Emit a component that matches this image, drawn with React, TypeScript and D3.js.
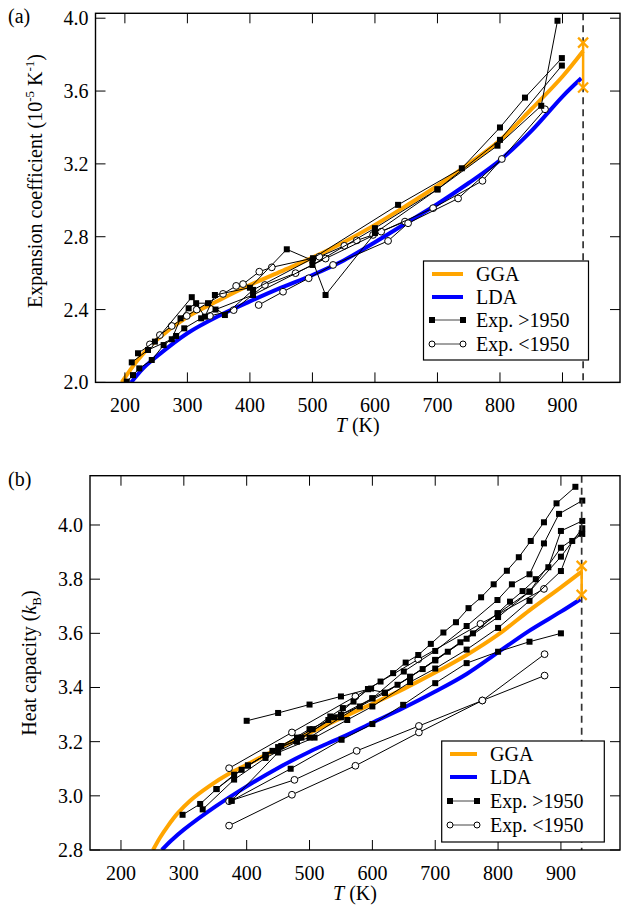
import React from "react";
import * as d3 from "d3";

// ---------- data ----------
const T_TICKS = [200, 300, 400, 500, 600, 700, 800, 900];
const ALPHA_TICKS = [2.0, 2.4, 2.8, 3.2, 3.6, 4.0];
const CP_TICKS = [2.8, 3.0, 3.2, 3.4, 3.6, 3.8, 4.0];
const T_MELT = 933;

type P = [number, number];

// Panel (a): expansion coefficient (1e-5 / K)
const ggaAlpha: P[] = [[195, 2.0], [220, 2.12], [250, 2.23], [300, 2.36], [350, 2.45], [400, 2.535], [450, 2.61], [500, 2.685], [550, 2.77], [600, 2.865], [650, 2.97], [700, 3.08], [750, 3.2], [800, 3.33], [850, 3.5], [900, 3.68], [933, 3.82]];
const ldaAlpha: P[] = [[210, 2.0], [230, 2.08], [250, 2.14], [300, 2.27], [350, 2.365], [400, 2.445], [450, 2.52], [500, 2.59], [550, 2.67], [600, 2.77], [650, 2.875], [700, 2.98], [750, 3.095], [800, 3.22], [850, 3.38], [900, 3.57], [930, 3.67]];
const alphaMeltRange: number[] = [3.866, 3.62];

const expAlphaNew1: P[] = [[203, 2.004], [213, 2.04], [223, 2.077], [243, 2.123], [262, 2.205], [282, 2.255], [295, 2.297], [322, 2.352], [345, 2.40], [405, 2.48], [500, 2.645], [600, 2.847], [700, 3.06], [800, 3.332], [899, 3.74]];
const expAlphaNew2: P[] = [[211, 2.11], [237, 2.178], [275, 2.237], [289, 2.352], [302, 2.407], [314, 2.435], [333, 2.435], [360, 2.37], [405, 2.508], [501, 2.682], [637, 2.975], [739, 3.176], [800, 3.40], [840, 3.564], [899, 3.781]];
const expAlphaNew3: P[] = [[221, 2.16], [248, 2.224], [307, 2.468], [328, 2.361], [344, 2.48], [400, 2.52], [459, 2.731], [500, 2.67], [521, 2.48], [600, 2.82], [700, 3.06], [796, 3.30], [866, 3.519], [892, 3.986]];
const expAlphaOld1: P[] = [[240, 2.209], [256, 2.26], [275, 2.31], [299, 2.365], [315, 2.40], [357, 2.486], [378, 2.53], [389, 2.54], [415, 2.608], [435, 2.632], [511, 2.69], [551, 2.75], [571, 2.78], [597, 2.81], [648, 2.883]];
const expAlphaOld2: P[] = [[336, 2.365], [374, 2.397], [424, 2.535], [473, 2.60], [521, 2.68], [610, 2.828], [693, 2.957], [772, 3.107], [872, 3.50]];
const expAlphaOld3: P[] = [[414, 2.425], [453, 2.498], [494, 2.572], [533, 2.645], [621, 2.777], [653, 2.874], [733, 3.01], [803, 3.227]];

// Panel (b): heat capacity (kB)
const ggaCp: P[] = [[251, 2.80], [262, 2.845], [275, 2.89], [290, 2.935], [310, 2.982], [340, 3.035], [373, 3.083], [400, 3.115], [450, 3.175], [500, 3.232], [550, 3.287], [600, 3.34], [650, 3.395], [700, 3.455], [750, 3.52], [800, 3.595], [850, 3.685], [900, 3.77], [933, 3.828]];
const ldaCp: P[] = [[265, 2.80], [280, 2.835], [300, 2.875], [350, 2.96], [400, 3.035], [450, 3.103], [500, 3.163], [550, 3.215], [600, 3.27], [650, 3.325], [700, 3.385], [750, 3.45], [800, 3.53], [850, 3.61], [900, 3.68], [931, 3.726]];
const cpMeltRange: number[] = [3.849, 3.742];

const expCpNew1: P[] = [[298, 2.93], [326, 2.97], [352, 3.025], [380, 3.078], [402, 3.112], [430, 3.151], [455, 3.184], [480, 3.215], [505, 3.246], [533, 3.293], [553, 3.324], [570, 3.348], [593, 3.394], [613, 3.422], [633, 3.453], [653, 3.492], [673, 3.520], [693, 3.561], [713, 3.603], [733, 3.641], [753, 3.693], [773, 3.733], [793, 3.781], [814, 3.831], [833, 3.881], [852, 3.941], [873, 4.010], [893, 4.080], [923, 4.141]];
const expCpNew2: P[] = [[441, 3.166], [500, 3.246], [550, 3.30], [600, 3.36], [650, 3.459], [700, 3.535], [750, 3.627], [799, 3.723], [822, 3.781], [850, 3.818], [873, 3.932], [897, 4.041], [934, 4.090]];
const expCpNew3: P[] = [[402, 3.112], [450, 3.18], [500, 3.215], [550, 3.29], [600, 3.36], [640, 3.41], [680, 3.468], [720, 3.532], [760, 3.60], [799, 3.674], [819, 3.717], [839, 3.756], [860, 3.80], [880, 3.844], [900, 3.978], [934, 4.015]];
const expCpNew4: P[] = [[352, 3.025], [392, 3.096], [430, 3.151], [487, 3.215], [540, 3.29], [593, 3.394], [620, 3.381], [660, 3.438], [700, 3.502], [740, 3.567], [800, 3.674], [850, 3.754], [900, 3.883], [934, 3.988]];
const expCpNew5: P[] = [[376, 2.982], [450, 3.16], [508, 3.215], [560, 3.28], [600, 3.33], [660, 3.42], [700, 3.47], [750, 3.54], [800, 3.62], [850, 3.72], [900, 3.83], [918, 3.941], [934, 3.967]];
const expCpNew6: P[] = [[400, 3.277], [450, 3.306], [500, 3.337], [550, 3.367], [598, 3.396]];
const expCpNew7: P[] = [[376, 2.982], [470, 3.10], [551, 3.207], [600, 3.265], [649, 3.336], [700, 3.416], [750, 3.49], [800, 3.532], [850, 3.569], [900, 3.600]];
const expCpNew8: P[] = [[330, 2.95], [380, 3.06], [430, 3.14], [480, 3.20], [530, 3.28], [580, 3.33], [620, 3.38], [660, 3.44], [700, 3.50], [750, 3.58], [800, 3.66], [850, 3.754], [900, 3.916], [933, 3.97]];
const expCpOld1: P[] = [[372, 2.89], [472, 3.004], [573, 3.111], [674, 3.234], [775, 3.352], [874, 3.523]];
const expCpOld2: P[] = [[372, 2.98], [476, 3.059], [575, 3.166], [674, 3.258], [775, 3.352], [874, 3.444]];
const expCpOld3: P[] = [[372, 3.102], [472, 3.234], [573, 3.367], [673, 3.504], [772, 3.635], [873, 3.764]];

// ---------- styles ----------
const FONT = "'Liberation Serif', 'Times New Roman', serif";
const ORANGE = "#FFA500";
const BLUE = "#0000FF";

type Cfg = {
  id: string;
  tag: string;
  x: d3.ScaleLinear<number, number>;
  y: d3.ScaleLinear<number, number>;
  yTicks: number[];
  gga: P[];
  lda: P[];
  melt: number[];
  newer: P[][];
  older: P[][];
  legend: { x: number; y: number; w: number; h: number; lx1: number; lx2: number; tx: number; rows: number[] };
  yLabel: React.ReactNode;
  yLabelPos: [number, number];
};

function Panel({ c }: { c: Cfg }) {
  const [x0, x1] = c.x.range();
  const [y0, y1] = c.y.range(); // y0 bottom, y1 top
  const line = d3.line<P>().x((d) => c.x(d[0])).y((d) => c.y(d[1]));
  const smooth = d3.line<P>().x((d) => c.x(d[0])).y((d) => c.y(d[1])).curve(d3.curveCatmullRom.alpha(0.5));
  const fmt = d3.format(".1f");
  const L = c.legend;
  const xm = c.x(T_MELT);
  const X = (cx: number, cy: number, k: string) => (
    <g key={k} stroke={ORANGE} strokeWidth={2.2}>
      <line x1={cx - 5} y1={cy - 5} x2={cx + 5} y2={cy + 5} />
      <line x1={cx - 5} y1={cy + 5} x2={cx + 5} y2={cy - 5} />
    </g>
  );
  return (
    <g fontFamily={FONT}>
      <defs>
        <clipPath id={"clip" + c.id}>
          <rect x={x0} y={y1} width={x1 - x0} height={y0 - y1} />
        </clipPath>
      </defs>
      <g clipPath={`url(#clip${c.id})`}>
        <path d={smooth(c.gga) || ""} fill="none" stroke={ORANGE} strokeWidth={4} />
        <path d={smooth(c.lda) || ""} fill="none" stroke={BLUE} strokeWidth={4} />
        {c.older.map((s, i) => (
          <g key={"o" + i}>
            <path d={line(s) || ""} fill="none" stroke="#000" strokeWidth={1} />
            {s.map((d, j) => (
              <circle key={j} cx={c.x(d[0])} cy={c.y(d[1])} r={3.4} fill="#fff" stroke="#000" strokeWidth={1} />
            ))}
          </g>
        ))}
        {c.newer.map((s, i) => (
          <g key={"n" + i}>
            <path d={line(s) || ""} fill="none" stroke="#000" strokeWidth={1} />
            {s.map((d, j) => (
              <rect key={j} x={c.x(d[0]) - 3} y={c.y(d[1]) - 3} width={6} height={6} fill="#000" />
            ))}
          </g>
        ))}
      </g>
      <line x1={xm} x2={xm} y1={y1} y2={y0} stroke="#333" strokeWidth={1.7} strokeDasharray="7,5" />
      <line x1={xm} x2={xm} y1={c.y(c.melt[0])} y2={c.y(c.melt[1])} stroke={ORANGE} strokeWidth={2.5} />
      {c.melt.map((v, i) => X(xm, c.y(v), "m" + i))}
      {/* frame and ticks */}
      <rect x={x0} y={y1} width={x1 - x0} height={y0 - y1} fill="none" stroke="#000" strokeWidth={1.4} />
      {T_TICKS.map((t) => (
        <g key={"xt" + t}>
          <line x1={c.x(t)} x2={c.x(t)} y1={y0} y2={y0 - 10} stroke="#000" strokeWidth={1} />
          <line x1={c.x(t)} x2={c.x(t)} y1={y1} y2={y1 + 10} stroke="#000" strokeWidth={1} />
          <text x={c.x(t)} y={y0 + 30} fontSize={20} textAnchor="middle">{t}</text>
        </g>
      ))}
      {c.yTicks.map((v) => (
        <g key={"yt" + v}>
          <line x1={x0} x2={x0 + 10} y1={c.y(v)} y2={c.y(v)} stroke="#000" strokeWidth={1} />
          <line x1={x1} x2={x1 - 10} y1={c.y(v)} y2={c.y(v)} stroke="#000" strokeWidth={1} />
          <text x={x0 - 7} y={c.y(v) + 7} fontSize={20} textAnchor="end">{fmt(v)}</text>
        </g>
      ))}
      <text x={(x0 + x1) / 2} y={y0 + 50} fontSize={20} textAnchor="middle">
        <tspan fontStyle="italic">T</tspan> (K)
      </text>
      <text transform={`translate(${c.yLabelPos[0]},${c.yLabelPos[1]}) rotate(-90)`} fontSize={20} textAnchor="middle">
        {c.yLabel}
      </text>
      <text x={8} y={y1 + 10} fontSize={20}>{c.tag}</text>
      {/* legend */}
      <rect x={L.x} y={L.y} width={L.w} height={L.h} fill="#fff" stroke="#000" strokeWidth={1.2} />
      <line x1={L.lx1} x2={L.lx2} y1={L.rows[0]} y2={L.rows[0]} stroke={ORANGE} strokeWidth={4} />
      <line x1={L.lx1} x2={L.lx2} y1={L.rows[1]} y2={L.rows[1]} stroke={BLUE} strokeWidth={4} />
      <line x1={L.lx1} x2={L.lx2} y1={L.rows[2]} y2={L.rows[2]} stroke="#444" strokeWidth={1} />
      <rect x={L.lx1 - 3} y={L.rows[2] - 3} width={6} height={6} fill="#000" />
      <rect x={L.lx2 - 3} y={L.rows[2] - 3} width={6} height={6} fill="#000" />
      <line x1={L.lx1} x2={L.lx2} y1={L.rows[3]} y2={L.rows[3]} stroke="#444" strokeWidth={1} />
      <circle cx={L.lx1} cy={L.rows[3]} r={3} fill="#fff" stroke="#000" />
      <circle cx={L.lx2} cy={L.rows[3]} r={3} fill="#fff" stroke="#000" />
      {["GGA", "LDA", "Exp. >1950", "Exp. <1950"].map((s, i) => (
        <text key={s} x={L.tx} y={L.rows[i] + 7} fontSize={20}>{s}</text>
      ))}
    </g>
  );
}

export default function App() {
  const cfgA: Cfg = {
    id: "a",
    tag: "(a)",
    x: d3.scaleLinear().domain([153, 992]).range([95.5, 620]),
    y: d3.scaleLinear().domain([2.0, 4.027]).range([382.4, 13.3]),
    yTicks: ALPHA_TICKS,
    gga: ggaAlpha,
    lda: ldaAlpha,
    melt: alphaMeltRange,
    newer: [expAlphaNew1, expAlphaNew2, expAlphaNew3],
    older: [expAlphaOld1, expAlphaOld2, expAlphaOld3],
    legend: { x: 423.5, y: 261, w: 165, h: 99, lx1: 432, lx2: 463, tx: 476, rows: [274, 297, 320, 344] },
    yLabel: (
      <>
        Expansion coefficient (10<tspan dy={-8} fontSize={13}>-5</tspan>
        <tspan dy={8}> K</tspan>
        <tspan dy={-8} fontSize={13}>-1</tspan>
        <tspan dy={8}>)</tspan>
      </>
    ),
    yLabelPos: [42, 181],
  };
  const cfgB: Cfg = {
    id: "b",
    tag: "(b)",
    x: d3.scaleLinear().domain([150.7, 994]).range([90, 620]),
    y: d3.scaleLinear().domain([2.8, 4.182]).range([850, 475.7]),
    yTicks: CP_TICKS,
    gga: ggaCp,
    lda: ldaCp,
    melt: cpMeltRange,
    newer: [expCpNew1, expCpNew2, expCpNew3, expCpNew4, expCpNew5, expCpNew6, expCpNew7, expCpNew8],
    older: [expCpOld1, expCpOld2, expCpOld3],
    legend: { x: 441.7, y: 741, w: 162.6, h: 101, lx1: 450, lx2: 477, tx: 490, rows: [754, 777, 801, 825] },
    yLabel: (
      <>
        Heat capacity (<tspan fontStyle="italic">k</tspan>
        <tspan dy={5} fontSize={13}>B</tspan>
        <tspan dy={-5}>)</tspan>
      </>
    ),
    yLabelPos: [36, 663],
  };
  return (
    <svg width={624} height={911} style={{ position: "absolute", left: 0, top: 0, background: "#fff" }}>
      <rect width={624} height={911} fill="#fff" />
      <Panel c={cfgA} />
      <Panel c={cfgB} />
    </svg>
  );
}
